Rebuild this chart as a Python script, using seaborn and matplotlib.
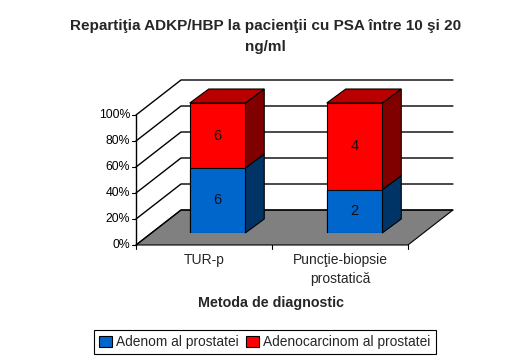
import matplotlib
matplotlib.use("Agg")
import numpy as np
import seaborn as sns
import matplotlib.pyplot as plt
from matplotlib.patches import Patch, Polygon

metode = ["TUR-p", "Puncţie-biopsie\nprostatică"]
adenom = [6, 2]
adenocarcinom = [6, 4]
y_ticks = [0, 20, 40, 60, 80, 100]
y_labels = ["0%", "20%", "40%", "60%", "80%", "100%"]

sns.set_theme(style="white")
plt.rcParams["font.family"] = ["Liberation Sans", "DejaVu Sans"]

W, H = 532, 364
fig = plt.figure(figsize=(W / 100, H / 100), dpi=100, facecolor="white")
# axes = plane where the bar fronts stand, the rest is offset from it in pixels
ax = fig.add_axes([149 / W, (H - 233) / H, 274 / W, 130 / H])
ux = 274 / 2
uy = 130 / 100

adenom = np.array(adenom, dtype=float)
adenocarcinom = np.array(adenocarcinom, dtype=float)
total = adenom + adenocarcinom
pct_a = adenom / total * 100
bar_w = 55.5 / ux


def off(x, y, px, py):
    return (x + px / ux, y + py / uy)


FRONT = (-13, -12)
BACK = (32, 23)
x0, x1 = -0.5, 1.485

# floor
floor = [off(x0, 0, *FRONT), off(x1, 0, *FRONT), off(x1, 0, *BACK), off(x0, 0, *BACK)]
ax.add_patch(Polygon(floor, fc="#808080", ec="black", lw=0.8, clip_on=False, zorder=1))

# grid on back and side wall
for t, lab in zip(y_ticks, y_labels):
    a = off(x0, t, *FRONT)
    b = off(x0, t, *BACK)
    c = off(x1, t, *BACK)
    ax.plot([a[0], b[0], c[0]], [a[1], b[1], c[1]], color="black", lw=1, clip_on=False, zorder=1)
    tick = off(x0, t, FRONT[0] - 4, FRONT[1])
    ax.plot([tick[0], a[0]], [a[1], a[1]], color="black", lw=0.8, clip_on=False, zorder=1)
    ax.text(tick[0] - 2 / ux, a[1], lab, ha="right", va="center", fontsize=8.8, color="black")

# y axis and x ticks
p = off(x0, 0, *FRONT)
q = off(x0, 100, *FRONT)
ax.plot([p[0], q[0]], [p[1], q[1]], color="black", lw=1, clip_on=False, zorder=1)
for x in [x0, (x0 + x1) / 2, x1]:
    s = off(x, 0, FRONT[0], FRONT[1])
    e = off(x, 0, FRONT[0], FRONT[1] - 4)
    ax.plot([s[0], e[0]], [s[1], e[1]], color="black", lw=0.8, clip_on=False, zorder=1)

# bars
sns.barplot(x=metode, y=[100, 100], color="#FF0000", saturation=1, width=bar_w,
            edgecolor="black", linewidth=0.8, ax=ax, zorder=3)
sns.barplot(x=metode, y=pct_a, color="#0066CC", saturation=1, width=bar_w,
            edgecolor="black", linewidth=0.8, ax=ax, zorder=4)

# sides and tops of bars
dpx, dpy = 19, 14
for i in range(len(metode)):
    r = i + bar_w / 2
    l = i - bar_w / 2
    m = pct_a[i]
    for y0, y1, col in [(0, m, "#003366"), (m, 100, "#800000")]:
        side = [(r, y0), off(r, y0, dpx, dpy), off(r, y1, dpx, dpy), (r, y1)]
        ax.add_patch(Polygon(side, fc=col, ec="black", lw=0.8, clip_on=False, zorder=2))
    top = [(l, 100), (r, 100), off(r, 100, dpx, dpy), off(l, 100, dpx, dpy)]
    ax.add_patch(Polygon(top, fc="#B80000", ec="black", lw=0.8, clip_on=False, zorder=2))
    ax.text(i, m / 2, f"{adenom[i]:.0f}", ha="center", va="center", fontsize=10.5, color="#111111", zorder=5)
    ax.text(i, m + (100 - m) / 2, f"{adenocarcinom[i]:.0f}", ha="center", va="center", fontsize=10.5, color="#111111", zorder=5)

ax.set_xlim(-0.5, 1.5)
ax.set_ylim(0, 100)
ax.set_xlabel("")
ax.set_ylabel("")
ax.set_xticks([])
ax.set_yticks([])
ax.patch.set_alpha(0)
sns.despine(ax=ax, left=True, bottom=True)

# category labels below the floor
label_x = [204, 340]
for cx, name in zip(label_x, metode):
    fig.text(cx / W, (H - 253) / H, name, ha="center", va="top", fontsize=10, linespacing=1.45)

fig.text(265.5 / W, (H - 26) / H, "Repartiţia ADKP/HBP la pacienţii cu PSA între 10 şi 20",
         ha="center", va="center", fontsize=11, fontweight="bold")
fig.text(265.5 / W, (H - 47) / H, "ng/ml", ha="center", va="center", fontsize=11, fontweight="bold")
fig.text(271.5 / W, (H - 303) / H, "Metoda de diagnostic", ha="center", va="center",
         fontsize=10.3, fontweight="bold")

handles = [Patch(fc="#0066CC", ec="black", lw=0.8), Patch(fc="#FF0000", ec="black", lw=0.8)]
leg = fig.legend(handles, ["Adenom al prostatei", "Adenocarcinom al prostatei"], ncol=2,
                 loc="center", bbox_to_anchor=(265 / W, (H - 342) / H), fontsize=9.9,
                 frameon=True, fancybox=False, edgecolor="black", framealpha=1,
                 handlelength=0.9, handleheight=0.9, handletextpad=0.35, columnspacing=0.5,
                 borderpad=0.38, borderaxespad=0)
leg.get_frame().set_linewidth(0.8)

fig.savefig("out.png", dpi=100)
